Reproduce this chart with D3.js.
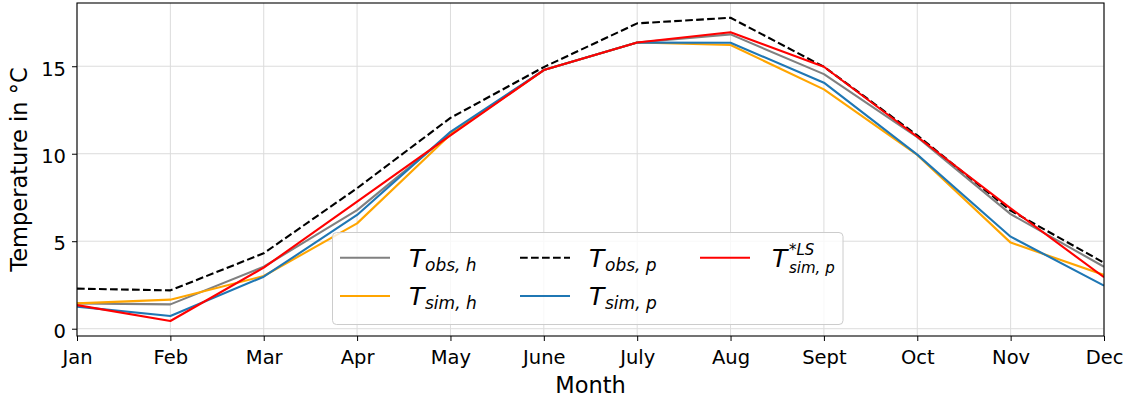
<!DOCTYPE html>
<html>
<head>
<meta charset="utf-8">
<script src="https://cdn.jsdelivr.net/npm/d3@7"></script>
<style>
  html, body { margin: 0; padding: 0; background: #fff; }
  svg { display: block; font-family: "DejaVu Sans", sans-serif; }
</style>
</head>
<body>
<svg id="chart" width="1133" height="404"></svg>
<script>
// Monthly mean temperatures (°C)
const months = ["Jan", "Feb", "Mar", "Apr", "May", "June", "July", "Aug", "Sept", "Oct", "Nov", "Dec"];
const tObsH  = [1.45, 1.39, 3.54, 6.78, 11.15, 14.78, 16.36, 16.82, 14.55, 10.95, 6.55, 3.54];
const tSimH  = [1.45, 1.66, 3.01, 6.02, 11.10, 14.78, 16.36, 16.21, 13.68, 9.93, 4.92, 3.07];
const tObsP  = [2.29, 2.19, 4.31, 8.03, 12.05, 14.95, 17.45, 17.77, 14.97, 11.05, 6.75, 3.77];
const tSimP  = [1.26, 0.73, 2.97, 6.50, 11.25, 14.78, 16.36, 16.34, 14.06, 9.95, 5.26, 2.46];
const tSimLS = [1.35, 0.44, 3.49, 7.26, 11.05, 14.78, 16.36, 16.94, 14.97, 10.97, 6.88, 2.94];
const yTicks = [0, 5, 10, 15];

const svg = d3.select("#chart");
const pL = 77, pR = 1104, pT = 3, pB = 336;

const x = d3.scaleLinear().domain([0, months.length - 1]).range([pL, pR]);
const y = d3.scaleLinear().domain([-0.417, 18.614]).range([pB, pT]);

// grid
const grid = svg.append("g").attr("stroke", "#dcdcdc").attr("stroke-width", 1);
grid.selectAll("line.v").data(d3.range(months.length)).join("line").attr("class", "v")
  .attr("x1", i => x(i)).attr("x2", i => x(i)).attr("y1", pT).attr("y2", pB);
grid.selectAll("line.h").data(yTicks).join("line").attr("class", "h")
  .attr("x1", pL).attr("x2", pR).attr("y1", d => y(d)).attr("y2", d => y(d));

// series, drawn in legend order
const series = [
  { values: tObsH,  color: "#808080", dash: null },
  { values: tSimH,  color: "#ffa500", dash: null },
  { values: tObsP,  color: "#000000", dash: "7.7,3.3" },
  { values: tSimP,  color: "#1f77b4", dash: null },
  { values: tSimLS, color: "#ff0000", dash: null }
];
const line = d3.line().x((d, i) => x(i)).y(d => y(d));
svg.append("clipPath").attr("id", "plotclip")
  .append("rect").attr("x", pL).attr("y", pT).attr("width", pR - pL).attr("height", pB - pT);
const lines = svg.append("g").attr("clip-path", "url(#plotclip)");
series.forEach(s => {
  lines.append("path").datum(s.values)
    .attr("d", line).attr("fill", "none")
    .attr("stroke", s.color).attr("stroke-width", 2.1)
    .attr("stroke-linejoin", "round")
    .attr("stroke-dasharray", s.dash);
});

// axes
const xAxis = d3.axisBottom(x).tickValues(d3.range(months.length))
  .tickFormat(i => months[i]).tickSize(5).tickPadding(9);
const yAxis = d3.axisLeft(y).tickValues(yTicks).tickSize(5).tickPadding(6);

const gx = svg.append("g").attr("transform", `translate(0,${pB})`).call(xAxis);
const gy = svg.append("g").attr("transform", `translate(${pL},0)`).call(yAxis);
[gx, gy].forEach(g => {
  g.select(".domain").remove();
  g.selectAll("line").attr("stroke", "#000").attr("stroke-width", 1);
  g.selectAll("text").attr("font-size", 19.5).attr("fill", "#000")
    .attr("font-family", "'DejaVu Sans', sans-serif");
});
gy.selectAll("text").attr("dy", "0.45em");

// frame
svg.append("rect").attr("x", pL).attr("y", pT)
  .attr("width", pR - pL).attr("height", pB - pT)
  .attr("fill", "none").attr("stroke", "#000").attr("stroke-width", 1.1);

// axis labels
svg.append("text").attr("x", (pL + pR) / 2).attr("y", 393)
  .attr("text-anchor", "middle").attr("font-size", 22.5).text("Month");
svg.append("text")
  .attr("transform", `translate(27,${(pT + pB) / 2}) rotate(-90)`)
  .attr("text-anchor", "middle").attr("font-size", 22.5).text("Temperature in °C");

// legend
const lg = svg.append("g");
lg.append("rect").attr("x", 332.5).attr("y", 232.5).attr("width", 510.5).attr("height", 92)
  .attr("rx", 4).attr("fill", "rgba(255,255,255,0.8)")
  .attr("stroke", "#cccccc").attr("stroke-width", 1);

const entries = [
  { s: 0, col: 0, row: 0, sub: "obs, h" },
  { s: 1, col: 0, row: 1, sub: "sim, h" },
  { s: 2, col: 1, row: 0, sub: "obs, p" },
  { s: 3, col: 1, row: 1, sub: "sim, p" },
  { s: 4, col: 2, row: 0, sub: "sim, p", sup: "*LS" }
];
const colX = [340, 520, 700];
const rowBase = [266.7, 305];
entries.forEach(e => {
  const s = series[e.s];
  const x0 = colX[e.col], base = rowBase[e.row];
  lg.append("line").attr("x1", x0).attr("x2", x0 + 50)
    .attr("y1", base - 9).attr("y2", base - 9)
    .attr("stroke", s.color).attr("stroke-width", 2.1)
    .attr("stroke-dasharray", s.dash);
  const tx = x0 + 69 + (e.col === 2 ? 3 : 0);
  const t = lg.append("text").attr("font-style", "italic");
  t.append("tspan").attr("x", tx).attr("y", base).attr("font-size", 25).text("T");
  if (e.sup) {
    t.append("tspan").attr("x", tx + 17).attr("y", base - 11.6).attr("font-size", 15).text(e.sup);
    t.append("tspan").attr("x", tx + 17).attr("y", base + 6.2).attr("font-size", 15).text(e.sub);
  } else {
    t.append("tspan").attr("x", tx + 16).attr("y", base + 3.8).attr("font-size", 17).text(e.sub);
  }
});
</script>
</body>
</html>
